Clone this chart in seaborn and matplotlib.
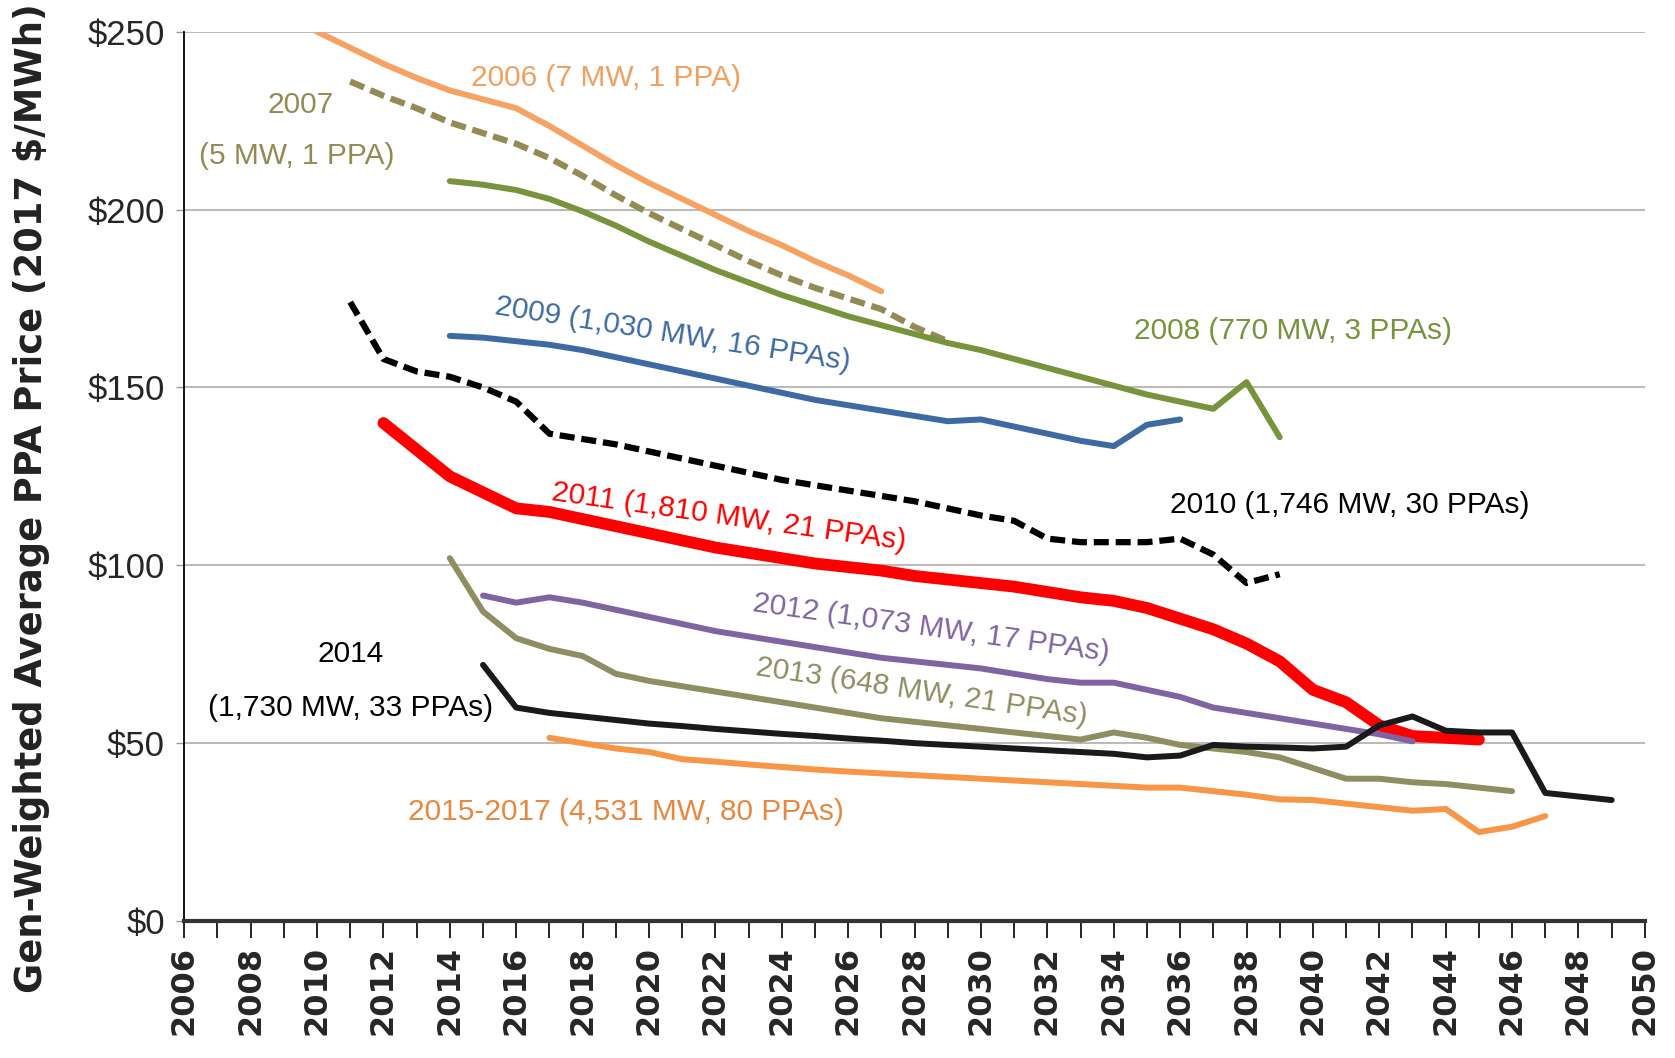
import matplotlib
matplotlib.use("Agg")
import matplotlib.pyplot as plt
import seaborn as sns

# PPA price by contract year (2017 $/MWh), one list per vintage
start_2006 = 2010
price_2006 = [250, 245.5, 241, 237, 233.5, 231, 228.5, 223.5, 218, 212.5,
              207.5, 203, 198.5, 194, 190, 185.5, 181.5, 177]

start_2007 = 2011
price_2007 = [236, 232, 228.5, 224.5, 221.5, 218.5, 214.5, 209.5, 204, 199,
              194.5, 190, 185.5, 181.5, 178, 175, 172, 167, 163]

start_2008 = 2014
price_2008 = [208, 207, 205.5, 203, 199.5, 195.5, 191, 187, 183, 179.5,
              176, 173, 170, 167.5, 165, 162.5, 160.5, 158, 155.5, 153,
              150.5, 148, 146, 144, 151.5, 136]

start_2009 = 2014
price_2009 = [164.5, 164, 163, 162, 160.5, 158.5, 156.5, 154.5, 152.5, 150.5,
              148.5, 146.5, 145, 143.5, 142, 140.5, 141, 139, 137, 135,
              133.5, 139.5, 141]

start_2010 = 2011
price_2010 = [174, 158, 154.5, 153, 150, 146, 137, 135.5, 134, 132,
              130, 128, 126, 124, 122.5, 121, 119.5, 118, 116, 114,
              112.5, 107.5, 106.5, 106.5, 106.5, 107.5, 103, 95, 97.5]

start_2011 = 2012
price_2011 = [140, 132.5, 125, 120.5, 116, 115, 113, 111, 109, 107,
              105, 103.5, 102, 100.5, 99.5, 98.5, 97, 96, 95, 94,
              92.5, 91, 90, 88, 85, 82, 78, 73, 65, 61.5,
              55, 52, 51.5, 51]

start_2012 = 2015
price_2012 = [91.5, 89.5, 91, 89.5, 87.5, 85.5, 83.5, 81.5, 80, 78.5,
              77, 75.5, 74, 73, 72, 71, 69.5, 68, 67, 67,
              65, 63, 60, 58.5, 57, 55.5, 54, 52.5, 50.5]

start_2013 = 2014
price_2013 = [102, 87, 79.5, 76.5, 74.5, 69.5, 67.5, 66, 64.5, 63,
              61.5, 60, 58.5, 57, 56, 55, 54, 53, 52, 51,
              53, 51.5, 49.5, 48.5, 47.5, 46, 43, 40, 40, 39,
              38.5, 37.5, 36.5]

start_2014 = 2015
price_2014 = [72, 60, 58.5, 57.5, 56.5, 55.5, 54.8, 54, 53.3, 52.6,
              52, 51.3, 50.7, 50, 49.5, 49, 48.5, 48, 47.5, 47,
              46, 46.5, 49.5, 49, 48.8, 48.5, 49, 55, 57.5, 53.5,
              53, 53, 36, 35, 34]

start_2015 = 2017
price_2015 = [51.5, 50, 48.5, 47.5, 45.5, 44.8, 44, 43.3, 42.6, 42,
              41.5, 41, 40.5, 40, 39.5, 39, 38.5, 38, 37.5, 37.5,
              36.5, 35.5, 34.2, 34, 33, 32, 31, 31.5, 25, 26.5, 29.5]

y_ticks = [0, 50, 100, 150, 200, 250]
y_tick_labels = ["$0", "$50", "$100", "$150", "$200", "$250"]
x_years = list(range(2006, 2051))

narrow = ["Liberation Sans", "DejaVu Sans"]

sns.set_style("white")
plt.rcParams["font.family"] = ["DejaVu Sans"]

fig = plt.figure(figsize=(16.75, 10.58), dpi=100)
ax = fig.add_axes([0.110, 0.1295, 0.872, 0.8405])

series = [
    (start_2006, price_2006, "#F5A263", 4.3, "-"),
    (start_2007, price_2007, "#948A54", 4.5, (0, (2.4, 1.1))),
    (start_2008, price_2008, "#77933C", 4.3, "-"),
    (start_2009, price_2009, "#3D6AA3", 4.3, "-"),
    (start_2010, price_2010, "black", 4.5, (0, (2.4, 1.1))),
    (start_2011, price_2011, "#FF0000", 8.5, "-"),
    (start_2012, price_2012, "#8064A2", 4.3, "-"),
    (start_2013, price_2013, "#8E8E62", 4.3, "-"),
    (start_2014, price_2014, "#1A1A1A", 4.3, "-"),
    (start_2015, price_2015, "#F79646", 4.3, "-"),
]

for start, values, color, lw, ls in series:
    years = list(range(start, start + len(values)))
    sns.lineplot(x=years, y=values, color=color, linewidth=lw,
                 linestyle=ls, ax=ax, zorder=3)

labels = [
    ("2006 (7 MW, 1 PPA)", 2018.7, 237, "#F0A060", 0),
    ("2007", 2009.5, 229.5, "#948A54", 0),
    ("(5 MW, 1 PPA)", 2009.4, 215, "#948A54", 0),
    ("2008 (770 MW, 3 PPAs)", 2039.4, 166, "#77933C", 0),
    ("2009 (1,030 MW, 16 PPAs)", 2020.7, 165, "#3D6AA3", -9),
    ("2010 (1,746 MW, 30 PPAs)", 2041.1, 117, "black", 0),
    ("2011 (1,810 MW, 21 PPAs)", 2022.4, 113.5, "#FF0000", -8),
    ("2012 (1,073 MW, 17 PPAs)", 2028.5, 82.3, "#8064A2", -8),
    ("2013 (648 MW, 21 PPAs)", 2028.2, 64.3, "#8E8E62", -8.5),
    ("2014", 2011, 75, "black", 0),
    ("(1,730 MW, 33 PPAs)", 2011, 60, "black", 0),
    ("2015-2017 (4,531 MW, 80 PPAs)", 2019.3, 30.6, "#E8873F", 0),
]
for text, x, y, color, rot in labels:
    ax.text(x, y, text, color=color, fontsize=21.5, family=narrow,
            ha="center", va="center", rotation=rot, rotation_mode="anchor",
            zorder=4)

ax.set_xlim(2006, 2050)
ax.set_ylim(0, 250)
ax.set_yticks(y_ticks)
ax.set_yticklabels(y_tick_labels, family=narrow, fontsize=25)
ax.set_xticks(x_years)
ax.set_xticklabels([str(y) if y % 2 == 0 else "" for y in x_years],
                   rotation=90, fontsize=23, fontweight="bold")
ax.tick_params(axis="x", direction="out", length=12, width=1.2, color="black",
               bottom=True, pad=6)
ax.tick_params(axis="y", direction="out", length=6, width=1, color="#999999",
               left=True, pad=8)

ax.grid(axis="y", color="#BBBBBB", linewidth=1.5, zorder=0)
ax.set_axisbelow(True)
for side in ["top", "right"]:
    ax.spines[side].set_visible(False)
ax.spines["left"].set_color("black")
ax.spines["left"].set_linewidth(1.3)
ax.spines["bottom"].set_color("#333333")
ax.spines["bottom"].set_linewidth(3)

ax.set_xlabel("")
ax.set_ylabel("Gen-Weighted Average PPA Price (2017 $/MWh)", fontsize=26.5,
              fontweight="bold", color="#222222")
ax.yaxis.set_label_coords(-0.092, 0.475)

fig.savefig("out.png", dpi=100)
